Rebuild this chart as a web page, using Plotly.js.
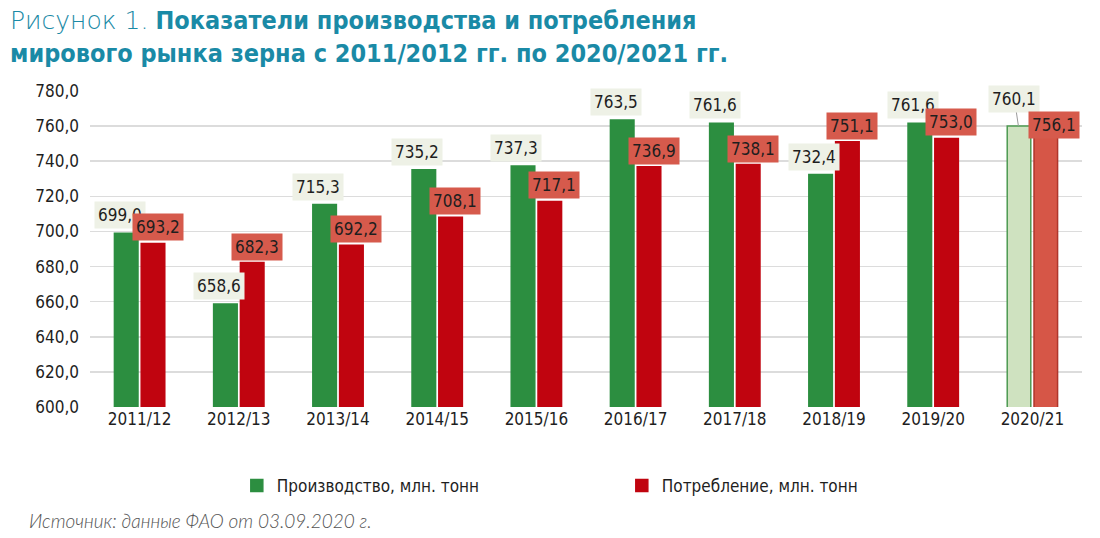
<!DOCTYPE html>
<html><head><meta charset="utf-8">
<script src="https://cdn.plot.ly/plotly-3.0.1.min.js"></script>
<style>html,body{margin:0;padding:0;background:#fff}#chart{width:1100px;height:538px}
text{font-stretch:condensed !important;}
</style>
</head><body><div id="chart"></div>
<script>
const categories = ['2011/12','2012/13','2013/14','2014/15','2015/16','2016/17','2017/18','2018/19','2019/20','2020/21'];
const production = [699.0, 658.6, 715.3, 735.2, 737.3, 763.5, 761.6, 732.4, 761.6, 760.1];
const consumption = [693.2, 682.3, 692.2, 708.1, 717.1, 736.9, 738.1, 751.1, 753.0, 756.1];
const yTicks = [600,620,640,660,680,700,720,740,760,780];

const FONT = '"DejaVu Sans", sans-serif';
const last = categories.length - 1;
const fmt = v => v.toFixed(1).replace('.', ',');

const gColors = categories.map((c,i) => i === last ? '#cfe2c0' : '#2c8e40');
const gLines = categories.map((c,i) => i === last ? '#4e9a52' : '#2c8e40');
const rColors = categories.map((c,i) => i === last ? '#d65647' : '#c0040f');
const rLines = categories.map((c,i) => i === last ? '#b0352b' : '#c0040f');

const traces = [
  {type:'bar', name:'Производство, млн. тонн', x:categories, y:production,
   marker:{color:gColors, line:{color:gLines, width:1.5}}, hoverinfo:'skip'},
  {type:'bar', name:'Потребление, млн. тонн', x:categories, y:consumption,
   marker:{color:rColors, line:{color:rLines, width:1.5}}, hoverinfo:'skip'}
];

const annotations = [];
categories.forEach((c,i) => {
  const isLast = i === last;
  const g = {x:c, y:production[i], xref:'x', yref:'y', text:fmt(production[i]),
    bgcolor:'#eef1e6', borderpad:3, font:{family:FONT, size:17, color:'#1e1e1e'}};
  if (isLast) {
    Object.assign(g, {showarrow:true, arrowhead:0, arrowwidth:1, arrowcolor:'#9a9a9a',
      xshift:-14, ax:-4, ay:-27, standoff:0});
  } else {
    Object.assign(g, {showarrow:false, xshift:-20, yshift:18});
  }
  annotations.push(g);
  annotations.push({x:c, y:consumption[i], xref:'x', yref:'y', text:fmt(consumption[i]),
    showarrow:false, xshift:isLast ? 22 : 18, yshift:isLast ? 8 : 16, bgcolor:'#d65a4c', borderpad:3,
    font:{family:FONT, size:17, color:'#1e1e1e'}});
});
// title
annotations.push({xref:'paper', yref:'paper', x:-0.083, y:1.275, xanchor:'left', yanchor:'top', align:'left',
  text:'<span style="font-weight:300">Рисунок 1.</span> <b>Показатели производства и потребления</b><br><b>мирового рынка зерна с 2011/2012 гг. по 2020/2021 гг.</b>',
  showarrow:false, font:{family:FONT, size:25, color:'#1a8aa6'}});
// source
annotations.push({xref:'paper', yref:'paper', x:-0.064, y:-0.36, xanchor:'left', yanchor:'middle',
  text:'<i>Источник: данные ФАО от 03.09.2020 г.</i>', showarrow:false,
  font:{family:'Lato, sans-serif', size:19, weight:300, color:'#555'}});

const layout = {
  width:1100, height:538,
  margin:{l:90, r:18, t:91, b:131},
  paper_bgcolor:'#fff', plot_bgcolor:'#fff',
  separators:', ',
  barmode:'group', bargap:0.46, bargroupgap:0.12,
  showlegend:true,
  legend:{orientation:'h', x:0.148, xanchor:'left', y:-0.25, yanchor:'middle',
    entrywidth:340, entrywidthmode:'pixels', itemwidth:30,
    font:{family:FONT, size:17, color:'#1e1e1e'}},
  xaxis:{type:'category', showline:false, ticks:'', showgrid:false,
    tickfont:{family:FONT, size:17, color:'#1e1e1e'}},
  yaxis:{range:[600,780], tickvals:yTicks, tickformat:'.1f', showline:false, ticks:'',
    gridcolor:'#dcdcdc', gridwidth:1.5, zeroline:false, ticklabelstandoff:10,
    tickfont:{family:FONT, size:17, color:'#1e1e1e'}},
  annotations:annotations
};
Plotly.newPlot('chart', traces, layout, {displayModeBar:false, staticPlot:true});
</script></body></html>
